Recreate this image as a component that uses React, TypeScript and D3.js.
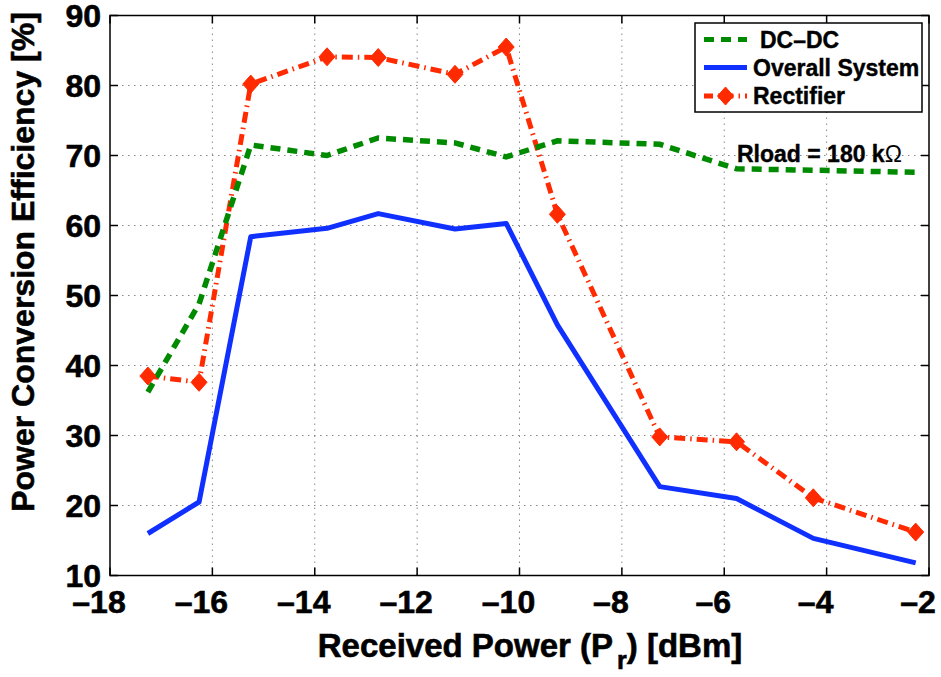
import { useEffect, useRef } from 'react'
import * as d3 from 'd3'

// received power (dBm) at each measurement
const powerDbm = [-17.26, -16.26, -15.25, -13.76, -12.76, -11.26, -10.26, -9.26, -7.26, -5.76, -4.26, -2.26]
const dcdcEff = [36.2, 48.8, 71.5, 70.0, 72.5, 71.8, 69.8, 72.1, 71.6, 68.1, 67.9, 67.6]
const overallEff = [16.0, 20.5, 58.4, 59.6, 61.7, 59.5, 60.3, 45.8, 22.7, 21.0, 15.3, 11.8]
const rectifierEff = [38.5, 37.6, 80.2, 84.1, 84.0, 81.6, 85.5, 61.6, 29.8, 29.1, 21.1, 16.2]

const xTicks = [-18, -16, -14, -12, -10, -8, -6, -4, -2]
const yTicks = [10, 20, 30, 40, 50, 60, 70, 80, 90]

const FONT = '"Liberation Sans", Arial, Helvetica, sans-serif'
const GREEN = '#008a00'
const BLUE = '#1030ff'
const RED = '#ff2a00'

function App() {
  const svgRef = useRef<SVGSVGElement | null>(null)

  useEffect(() => {
    if (!svgRef.current) return
    const root = d3.select(svgRef.current)
    root.selectAll('*').remove()

    const left = 110
    const right = 929
    const top = 15.5
    const bottom = 575.5

    const x = d3.scaleLinear().domain([-18, -2]).range([left, right])
    const y = d3.scaleLinear().domain([10, 90]).range([bottom, top])

    // grid
    const grid = root.append('g')
    xTicks.slice(1, -1).forEach((t) => {
      grid
        .append('line')
        .attr('x1', x(t))
        .attr('x2', x(t))
        .attr('y1', top)
        .attr('y2', bottom)
        .attr('stroke', '#888')
        .attr('stroke-width', 1)
        .attr('stroke-dasharray', '1.5,4.5')
    })
    yTicks.slice(1, -1).forEach((t) => {
      grid
        .append('line')
        .attr('x1', left)
        .attr('x2', right)
        .attr('y1', y(t))
        .attr('y2', y(t))
        .attr('stroke', '#888')
        .attr('stroke-width', 1)
        .attr('stroke-dasharray', '1.5,4.5')
    })

    const rows = powerDbm.map((p, i) => ({
      p,
      dcdc: dcdcEff[i],
      overall: overallEff[i],
      rect: rectifierEff[i],
    }))

    const lineOf = (key: 'dcdc' | 'overall' | 'rect') =>
      d3
        .line<(typeof rows)[number]>()
        .x((d) => x(d.p))
        .y((d) => y(d[key]))

    root
      .append('path')
      .datum(rows)
      .attr('d', lineOf('rect'))
      .attr('fill', 'none')
      .attr('stroke', RED)
      .attr('stroke-width', 5)
      .attr('stroke-dasharray', '11,5,1.5,5')

    root
      .append('path')
      .datum(rows)
      .attr('d', lineOf('dcdc'))
      .attr('fill', 'none')
      .attr('stroke', GREEN)
      .attr('stroke-width', 5.5)
      .attr('stroke-dasharray', '10,7')

    root
      .append('path')
      .datum(rows)
      .attr('d', lineOf('overall'))
      .attr('fill', 'none')
      .attr('stroke', BLUE)
      .attr('stroke-width', 5)
      .attr('stroke-linejoin', 'round')

    const diamond = (cx: number, cy: number) =>
      `M${cx},${cy - 9}L${cx + 8},${cy}L${cx},${cy + 9}L${cx - 8},${cy}Z`

    root
      .append('g')
      .selectAll('path')
      .data(rows)
      .enter()
      .append('path')
      .attr('d', (d) => diamond(x(d.p), y(d.rect)))
      .attr('fill', RED)
      .attr('stroke', RED)
      .attr('stroke-width', 1)

    // axes box + inward ticks
    const ax = root.append('g').attr('stroke', '#000').attr('stroke-width', 1.5)
    ax.append('rect')
      .attr('x', left)
      .attr('y', top)
      .attr('width', right - left)
      .attr('height', bottom - top)
      .attr('fill', 'none')
    xTicks.forEach((t) => {
      ax.append('line').attr('x1', x(t)).attr('x2', x(t)).attr('y1', bottom).attr('y2', bottom - 8)
      ax.append('line').attr('x1', x(t)).attr('x2', x(t)).attr('y1', top).attr('y2', top + 8)
    })
    yTicks.forEach((t) => {
      ax.append('line').attr('x1', left).attr('x2', left + 8).attr('y1', y(t)).attr('y2', y(t))
      ax.append('line').attr('x1', right).attr('x2', right - 8).attr('y1', y(t)).attr('y2', y(t))
    })

    const labels = root
      .append('g')
      .attr('font-family', FONT)
      .attr('font-weight', 'bold')
      .attr('font-size', 32)
      .attr('fill', '#000')
      .attr('stroke', '#000')
      .attr('stroke-width', 0.6)

    xTicks.forEach((t) => {
      labels
        .append('text')
        .attr('x', x(t) - 11)
        .attr('y', 613)
        .attr('text-anchor', 'middle')
        .text(t < 0 ? `\u2013${Math.abs(t)}` : `${t}`)
    })
    yTicks.forEach((t) => {
      labels
        .append('text')
        .attr('x', 101)
        .attr('y', y(t) + 11.5)
        .attr('text-anchor', 'end')
        .text(`${t}`)
    })

    // x label with subscript
    const xl = labels
      .append('text')
      .attr('x', 530)
      .attr('y', 657)
      .attr('text-anchor', 'middle')
      .attr('font-size', 33)
    xl.append('tspan').text('Received Power (P')
    xl.append('tspan').attr('font-size', 25).attr('dy', 12).attr('dx', 4).text('r')
    xl.append('tspan').attr('dy', -12).text(') [dBm]')

    labels
      .append('text')
      .attr('transform', 'translate(34,262) rotate(-90)')
      .attr('text-anchor', 'middle')
      .text('Power Conversion Efficiency [%]')

    // annotation
    const ann = root
      .append('text')
      .attr('x', 737)
      .attr('y', 162)
      .attr('font-family', FONT)
      .attr('font-weight', 'bold')
      .attr('font-size', 23)
      .attr('stroke', '#000')
      .attr('stroke-width', 0.4)
    ann.append('tspan').text('Rload = 180 k')
    ann.append('tspan').attr('font-weight', 'normal').attr('stroke-width', 0).text('\u03a9')

    // legend
    const lg = root.append('g')
    lg.append('rect')
      .attr('x', 695)
      .attr('y', 23)
      .attr('width', 227)
      .attr('height', 89)
      .attr('fill', '#fff')
      .attr('stroke', '#000')
      .attr('stroke-width', 1.5)

    const items = [
      { label: 'DC\u2013DC', color: GREEN, dash: '10,7', tx: 760, marker: false },
      { label: 'Overall System', color: BLUE, dash: null, tx: 753, marker: false },
      { label: 'Rectifier', color: RED, dash: '9,5,1.5,5', tx: 753, marker: true },
    ]
    const rowY = [39.5, 67.5, 96]
    items.forEach((it, i) => {
      const ly = rowY[i]
      const l = lg
        .append('line')
        .attr('x1', 704)
        .attr('x2', 747)
        .attr('y1', ly)
        .attr('y2', ly)
        .attr('stroke', it.color)
        .attr('stroke-width', 5)
      if (it.dash) l.attr('stroke-dasharray', it.dash)
      if (it.marker) {
        lg.append('path').attr('d', diamond(725.5, ly)).attr('fill', RED).attr('stroke', RED)
      }
      lg.append('text')
        .attr('x', it.tx)
        .attr('y', ly + 8)
        .attr('font-family', FONT)
        .attr('font-weight', 'bold')
        .attr('font-size', 23)
        .attr('stroke', '#000')
        .attr('stroke-width', 0.4)
        .text(it.label)
    })
  }, [])

  return (
    <div style={{ position: 'absolute', left: 0, top: 0 }}>
      <svg ref={svgRef} width={941} height={677} style={{ display: 'block', background: '#fff' }}></svg>
    </div>
  )
}

export default App
